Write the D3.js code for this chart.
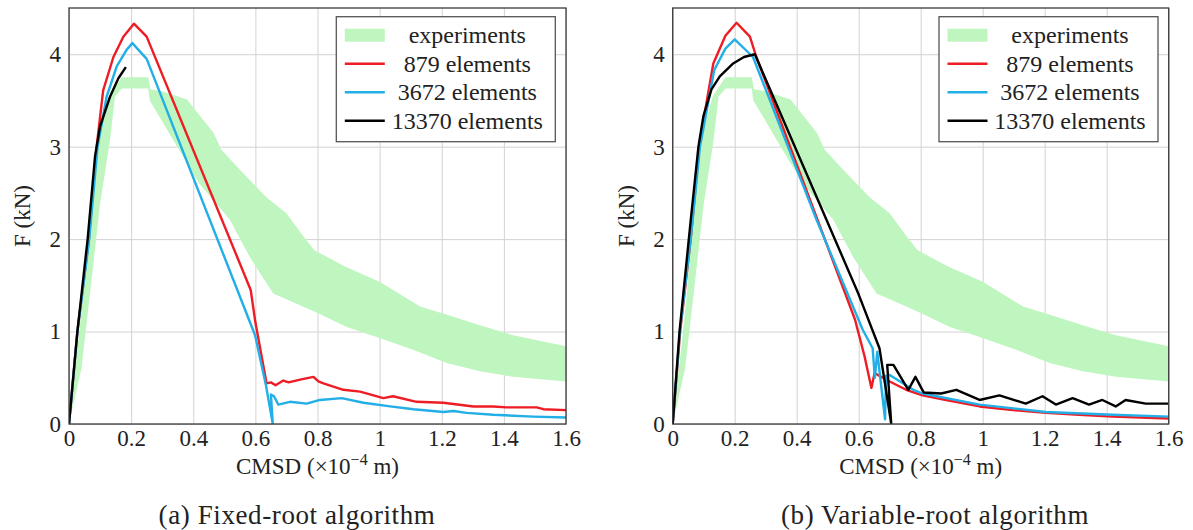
<!DOCTYPE html>
<html>
<head>
<meta charset="utf-8">
<script src="https://cdn.jsdelivr.net/npm/d3@7"></script>
<style>
  body { margin: 0; background: #fff; }
  svg { font-family: "Liberation Serif", "DejaVu Serif", serif; }
</style>
</head>
<body>
<svg id="chart" width="1193" height="530"></svg>
<script>
var xTicks = [0, 0.2, 0.4, 0.6, 0.8, 1, 1.2, 1.4, 1.6];
var yTicks = [0, 1, 2, 3, 4];
var legendLabels = ["experiments", "879 elements", "3672 elements", "13370 elements"];
var captions = ["(a) Fixed-root algorithm", "(b) Variable-root algorithm"];

// experiments band (upper and lower envelope)
var expUpper = [[0,0],[0.03,0.9],[0.046,1.42],[0.067,2.38],[0.1,3.2],[0.13,3.55],[0.17,3.75],[0.255,3.75],
  [0.262,3.62],[0.3,3.6],[0.38,3.51],[0.465,3.15],[0.49,2.97],[0.55,2.75],[0.636,2.45],[0.7,2.28],
  [0.75,2.05],[0.79,1.88],[0.89,1.7],[1.0,1.54],[1.13,1.27],[1.22,1.18],[1.32,1.07],[1.43,0.96],[1.6,0.84]];
var expLower = [[0,0],[0.04,0.6],[0.068,1.42],[0.1,2.38],[0.132,3.07],[0.148,3.54],[0.17,3.63],[0.255,3.63],
  [0.26,3.5],[0.336,3.07],[0.42,2.6],[0.518,2.21],[0.583,1.8],[0.658,1.41],[0.68,1.38],[0.8,1.2],
  [0.894,1.05],[1.0,0.93],[1.11,0.8],[1.216,0.66],[1.323,0.57],[1.43,0.51],[1.6,0.46]];

// (a) fixed-root
var fixed879 = [[0,0],[0.027,1.0],[0.064,2.0],[0.089,3.0],[0.11,3.61],[0.143,3.97],[0.175,4.19],[0.209,4.33],
  [0.25,4.19],[0.585,1.45],[0.6,1.1],[0.636,0.44],[0.65,0.45],[0.665,0.42],[0.69,0.47],[0.707,0.45],
  [0.744,0.48],[0.787,0.51],[0.803,0.46],[0.819,0.44],[0.883,0.37],[0.937,0.35],[1.012,0.28],[1.043,0.3],
  [1.119,0.24],[1.205,0.23],[1.302,0.19],[1.366,0.19],[1.409,0.18],[1.506,0.18],[1.527,0.16],[1.6,0.15]];
var fixed3672 = [[0,0],[0.027,1.0],[0.065,2.0],[0.092,3.0],[0.121,3.54],[0.154,3.87],[0.186,4.05],[0.204,4.12],
  [0.25,3.95],[0.599,0.96],[0.634,0.42],[0.656,0.0],[0.65,0.32],[0.66,0.3],[0.674,0.21],[0.711,0.24],
  [0.765,0.22],[0.808,0.26],[0.878,0.28],[0.948,0.23],[1.034,0.19],[1.109,0.16],[1.205,0.13],[1.238,0.14],
  [1.28,0.12],[1.366,0.1],[1.495,0.08],[1.6,0.07]];
var fixed13370 = [[0,0],[0.027,1.0],[0.06,2.0],[0.084,2.9],[0.1,3.22],[0.132,3.54],[0.159,3.74],[0.183,3.86]];

// (b) variable-root
var var879 = [[0,0],[0.024,1.0],[0.058,2.0],[0.088,3.07],[0.131,3.9],[0.17,4.2],[0.206,4.34],[0.249,4.19],
  [0.27,3.97],[0.588,1.13],[0.619,0.73],[0.641,0.39],[0.651,0.55],[0.7,0.46],[0.753,0.37],[0.806,0.31],
  [0.882,0.26],[0.99,0.19],[1.097,0.15],[1.204,0.12],[1.311,0.1],[1.419,0.08],[1.6,0.06]];
var var3672 = [[0,0],[0.023,1.0],[0.058,2.0],[0.088,3.0],[0.134,3.83],[0.17,4.06],[0.2,4.16],[0.259,3.97],
  [0.464,2.21],[0.613,1.02],[0.645,0.82],[0.652,0.5],[0.66,0.78],[0.685,0.05],[0.688,0.52],[0.7,0.53],
  [0.776,0.37],[0.806,0.33],[0.99,0.21],[1.204,0.13],[1.419,0.1],[1.6,0.08]];
var var13370 = [[0,0],[0.022,1.0],[0.058,2.2],[0.083,3.0],[0.099,3.33],[0.125,3.62],[0.152,3.76],[0.195,3.9],
  [0.23,3.97],[0.265,4.0],[0.496,2.21],[0.6,1.4],[0.667,0.82],[0.705,0.0],[0.692,0.64],
  [0.712,0.64],[0.76,0.37],[0.783,0.51],[0.81,0.34],[0.866,0.33],[0.915,0.37],[0.99,0.26],[1.054,0.31],
  [1.139,0.22],[1.193,0.3],[1.236,0.21],[1.29,0.28],[1.343,0.21],[1.386,0.26],[1.429,0.19],[1.461,0.26],
  [1.526,0.22],[1.6,0.22]];

var colors = ["#ee1c24", "#22aee6", "#000000"];
var bandColor = "#bff5bf";

var svg = d3.select("#chart");
var plotTop = 8, plotBottom = 424;

function drawPanel(idx, left, right, series, captionX) {
  var x = d3.scaleLinear().domain([0, 1.6]).range([left, right]);
  var y = d3.scaleLinear().domain([0, 4.5]).range([plotBottom, plotTop]);
  var g = svg.append("g");

  g.append("clipPath").attr("id", "clip" + idx)
    .append("rect").attr("x", left).attr("y", plotTop)
    .attr("width", right - left).attr("height", plotBottom - plotTop);

  // grid
  g.append("g")
    .attr("transform", "translate(0," + plotBottom + ")")
    .call(d3.axisBottom(x).tickValues(xTicks).tickSize(-(plotBottom - plotTop)).tickFormat(""))
    .call(function(a) { a.select(".domain").remove(); })
    .selectAll("line").attr("stroke", "#d2d2d2").attr("stroke-width", 1);
  g.append("g")
    .attr("transform", "translate(" + left + ",0)")
    .call(d3.axisLeft(y).tickValues(yTicks).tickSize(-(right - left)).tickFormat(""))
    .call(function(a) { a.select(".domain").remove(); })
    .selectAll("line").attr("stroke", "#d2d2d2").attr("stroke-width", 1);

  var line = d3.line().x(function(d) { return x(d[0]); }).y(function(d) { return y(d[1]); });
  var plot = g.append("g").attr("clip-path", "url(#clip" + idx + ")");

  plot.append("path")
    .attr("d", line(expUpper.concat(expLower.slice().reverse())) + "Z")
    .attr("fill", bandColor).attr("stroke", "none");

  series.forEach(function(s, i) {
    plot.append("path")
      .attr("d", line(s))
      .attr("fill", "none")
      .attr("stroke", colors[i])
      .attr("stroke-width", 2.4)
      .attr("stroke-linejoin", "round");
  });

  // frame
  g.append("rect")
    .attr("x", left).attr("y", plotTop)
    .attr("width", right - left).attr("height", plotBottom - plotTop)
    .attr("fill", "none").attr("stroke", "#3a3a3a").attr("stroke-width", 1.3);

  // tick labels
  g.append("g")
    .attr("transform", "translate(0," + plotBottom + ")")
    .call(d3.axisBottom(x).tickValues(xTicks).tickSize(0).tickPadding(6).tickFormat(d3.format("")))
    .call(function(a) { a.select(".domain").remove(); })
    .selectAll("text").attr("font-size", 23).attr("fill", "#222")
    .attr("font-family", "Liberation Serif, serif");
  g.append("g")
    .attr("transform", "translate(" + left + ",0)")
    .call(d3.axisLeft(y).tickValues(yTicks).tickSize(0).tickPadding(8).tickFormat(d3.format("")))
    .call(function(a) { a.select(".domain").remove(); })
    .selectAll("text").attr("font-size", 23).attr("fill", "#222")
    .attr("font-family", "Liberation Serif, serif");

  // axis titles
  var xt = g.append("text")
    .attr("x", (left + right) / 2).attr("y", 474)
    .attr("text-anchor", "middle").attr("font-size", 23).attr("fill", "#222");
  xt.append("tspan").text("CMSD (\u00d710");
  xt.append("tspan").attr("dy", -9).attr("font-size", 16).text("\u22124");
  xt.append("tspan").attr("dy", 9).text(" m)");

  g.append("text")
    .attr("transform", "translate(" + (left - 39) + "," + ((plotTop + plotBottom) / 2) + ") rotate(-90)")
    .attr("text-anchor", "middle").attr("font-size", 23).attr("fill", "#222")
    .text("F (kN)");

  g.append("text")
    .attr("x", captionX).attr("y", 524)
    .attr("text-anchor", "middle").attr("font-size", 27)
    .attr("letter-spacing", 0.6).attr("fill", "#222")
    .text(captions[idx]);

  // legend
  var lw = 219, lh = 125;
  var lx = right - 10.7 - lw, ly = plotTop + 8.7;
  var leg = g.append("g");
  leg.append("rect").attr("x", lx).attr("y", ly).attr("width", lw).attr("height", lh)
    .attr("fill", "#fff").attr("stroke", "#555").attr("stroke-width", 1.3);
  legendLabels.forEach(function(lab, i) {
    var cy = ly + 18.5 + i * 28.5;
    if (i == 0) {
      leg.append("rect").attr("x", lx + 8.5).attr("y", cy - 6.5)
        .attr("width", 40).attr("height", 13).attr("fill", bandColor);
    } else {
      leg.append("line").attr("x1", lx + 8.5).attr("x2", lx + 48.5)
        .attr("y1", cy).attr("y2", cy)
        .attr("stroke", colors[i - 1]).attr("stroke-width", 2.4);
    }
    leg.append("text").attr("x", lx + 131).attr("y", cy).attr("dy", "0.33em")
      .attr("text-anchor", "middle").attr("font-size", 24).attr("fill", "#222")
      .text(lab);
  });
}

drawPanel(0, 69, 566, [fixed879, fixed3672, fixed13370], 297);
drawPanel(1, 672.7, 1168.7, [var879, var3672, var13370], 935);
</script>
</body>
</html>
